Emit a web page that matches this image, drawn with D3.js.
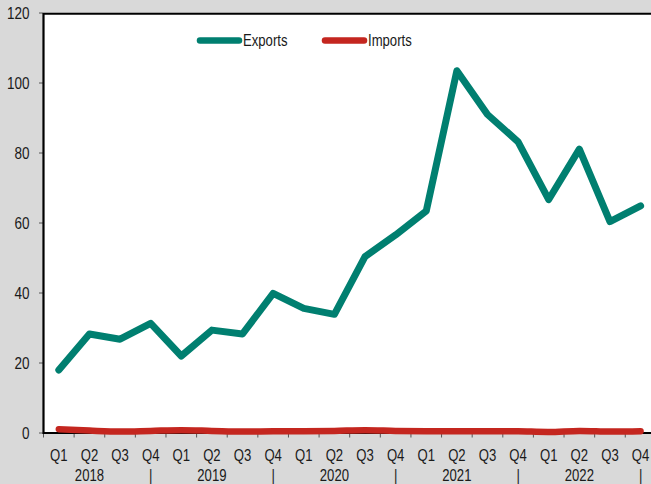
<!DOCTYPE html>
<html><head><meta charset="utf-8">
<script src="https://cdn.jsdelivr.net/npm/d3@7"></script>
<style>
html,body{margin:0;padding:0;background:#d9d9d9;}
svg{display:block;}
text{font-family:"Liberation Sans",Arial,sans-serif;fill:#1a1a1a;}
</style></head><body>
<svg id="c" width="651" height="484"></svg>
<script>
const quarters = ["Q1","Q2","Q3","Q4","Q1","Q2","Q3","Q4","Q1","Q2","Q3","Q4","Q1","Q2","Q3","Q4","Q1","Q2","Q3","Q4"];
const yearRow  = ["","2018","","|","","2019","","|","","2020","","|","","2021","","|","","2022","","|"];
const exports_ = [18.0,28.3,26.8,31.3,22.0,29.4,28.3,39.9,35.6,33.9,50.4,56.6,63.4,103.5,91.0,83.2,66.7,81.1,60.4,64.9];
const imports_ = [1.1,0.7,0.4,0.6,0.8,0.6,0.4,0.5,0.5,0.6,0.8,0.6,0.5,0.5,0.5,0.5,0.3,0.6,0.4,0.5];
const yTicks = [0,20,40,60,80,100,120];
const seriesNames = ["Exports","Imports"];
const colors = ["#007f70","#c4261f"];

const SX = 0.82; // condensed look
const svg = d3.select("#c");
const L = 43.5, T = 13, B = 433, bw = 30.62;
const idx = d3.range(quarters.length);
const x = d3.scaleBand().domain(idx).range([L, L + bw*quarters.length]).padding(0);
const y = d3.scaleLinear().domain([0,120]).range([B, T]);

// plot area
svg.append("rect").attr("x", L).attr("y", T).attr("width", 651 - L).attr("height", B - T).attr("fill", "#fff");

// y axis ticks and labels
const ya = svg.append("g");
ya.selectAll("line").data(yTicks).join("line")
  .attr("x1", L-4.5).attr("x2", L).attr("y1", d=>y(d)).attr("y2", d=>y(d))
  .attr("stroke", "#555").attr("stroke-width", 1);
ya.selectAll("text").data(yTicks).join("text")
  .attr("transform", d => `translate(29.5,${y(d)}) scale(${SX},1)`).attr("dy","0.36em")
  .attr("text-anchor","end").attr("font-size", 16.5).text(d=>d);

// x ticks at band boundaries
const bounds = d3.range(quarters.length+1).map(i => L + i*bw);
svg.append("g").selectAll("line").data(bounds).join("line")
  .attr("x1", d=>d).attr("x2", d=>d).attr("y1", B).attr("y2", B+4.5)
  .attr("stroke", "#555").attr("stroke-width", 1);

// x labels
const xl = svg.append("g");
xl.selectAll("text.q").data(idx).join("text").attr("class","q")
  .attr("transform", i => `translate(${x(i) + x.bandwidth()/2},461) scale(${SX},1)`)
  .attr("text-anchor","middle").attr("font-size", 16).text(i => quarters[i]);
xl.selectAll("text.yr").data(idx.filter(i=>yearRow[i])).join("text").attr("class","yr")
  .attr("transform", i => `translate(${x(i) + x.bandwidth()/2},480.5) scale(${SX},1)`)
  .attr("text-anchor","middle").attr("font-size", 16).text(i => yearRow[i]);

// borders
svg.append("line").attr("x1", L).attr("x2", 651).attr("y1", T+0.7).attr("y2", T+0.7).attr("stroke","#000").attr("stroke-width",2);
svg.append("line").attr("x1", L).attr("x2", L).attr("y1", T).attr("y2", B+1).attr("stroke","#000").attr("stroke-width",2.2);
svg.append("line").attr("x1", L).attr("x2", 651).attr("y1", B).attr("y2", B).attr("stroke","#000").attr("stroke-width",2);

// lines
const cx = i => x(i) + x.bandwidth()/2;
const lineE = d3.line().x((d,i)=>cx(i)).y(d=>y(d));
const lineI = d3.line().x((d,i)=>cx(i)).y(d=>y(d)).curve(d3.curveCatmullRom);
svg.append("path").datum(imports_).attr("d", lineI).attr("fill","none")
  .attr("stroke", colors[1]).attr("stroke-width", 6.5).attr("stroke-linecap","round").attr("stroke-linejoin","round");
svg.append("path").datum(exports_).attr("d", lineE).attr("fill","none")
  .attr("stroke", colors[0]).attr("stroke-width", 7).attr("stroke-linecap","round").attr("stroke-linejoin","round");

// legend
const lg = svg.append("g");
const legX = [200, 325];
seriesNames.forEach((n,k)=>{
  lg.append("line").attr("x1", legX[k]).attr("x2", legX[k]+39).attr("y1", 40.5).attr("y2", 40.5)
    .attr("stroke", colors[k]).attr("stroke-width", 6.5).attr("stroke-linecap","round");
  lg.append("text").attr("transform", `translate(${legX[k]+43},40.5) scale(${SX},1)`).attr("dy","0.36em")
    .attr("font-size", 16).text(n);
});
</script>
</body></html>
